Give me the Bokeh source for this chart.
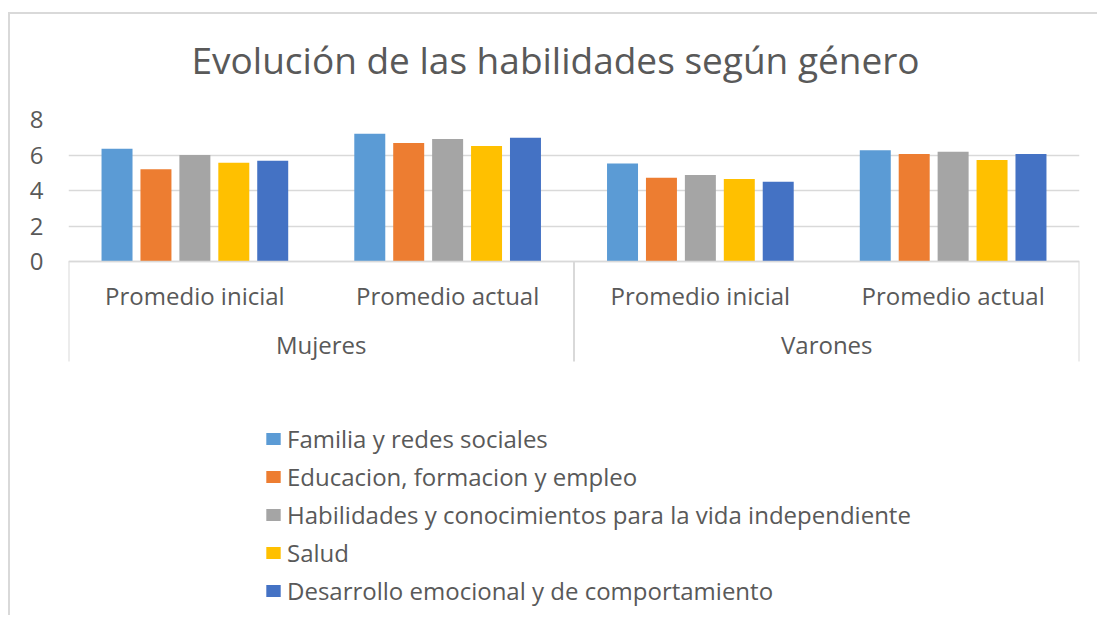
from bokeh.plotting import figure
from bokeh.models import (FactorRange, Range1d, FixedTicker, CategoricalAxis, Title,
                          Legend, LegendItem, ColumnDataSource)
from bokeh.transform import dodge
from bokeh.embed import file_html
from bokeh.resources import INLINE

# ---------------- data ----------------
generos = ["Mujeres", "Varones"]
momentos = ["Promedio inicial", "Promedio actual"]
series = ["Familia y redes sociales",
          "Educacion, formacion y empleo",
          "Habilidades y conocimientos para la vida independiente",
          "Salud",
          "Desarrollo emocional y de comportamiento"]
# order: Mujeres-inicial, Mujeres-actual, Varones-inicial, Varones-actual
familia = [6.35, 7.20, 5.52, 6.27]
educacion = [5.20, 6.67, 4.72, 6.05]
habilidades = [6.00, 6.90, 4.88, 6.18]
salud = [5.57, 6.51, 4.65, 5.72]
desarrollo = [5.67, 6.97, 4.50, 6.05]
y_ticks = [0, 2, 4, 6, 8]

colors = ["#5B9BD5", "#ED7D31", "#A5A5A5", "#FFC000", "#4472C4"]
TEXT = "#595959"
GRID = "#D9D9D9"
FONT = "Open Sans"

# ---------------- layout (canvas px) ----------------
W, H = 1089, 603
frame_top = 105
zero_px = 247          # canvas y of value 0
box_bottom_px = 347    # bottom of category box
unit = (zero_px - frame_top) / y_ticks[-1]
y_start = -(H - zero_px) / unit
box_bottom = -(box_bottom_px - zero_px) / unit
group_axis_loc = -37 / unit

factors = [(g, m) for g in generos for m in momentos]
src = ColumnDataSource(dict(x=factors, familia=familia, educacion=educacion,
                            habilidades=habilidades, salud=salud, desarrollo=desarrollo))

p = figure(width=W, height=H, output_backend="svg", toolbar_location=None,
           x_range=FactorRange(*factors, factor_padding=0, group_padding=0, range_padding=0),
           y_range=Range1d(y_start, y_ticks[-1]),
           min_border_left=58, min_border_right=20, min_border_top=frame_top,
           min_border_bottom=0)
p.outline_line_color = None
p.background_fill_color = "white"
p.border_fill_color = "white"
p.styles = {"margin-left": "8px", "margin-top": "12px",
            "border-left": "2px solid #D9D9D9", "border-top": "2px solid #D9D9D9"}

# title
p.title.text = "Evolución de las habilidades según género"
p.title.text_font = FONT
p.title.text_font_size = "37px"
p.title.text_font_style = "normal"
p.title.text_color = TEXT
p.title.align = "left"
p.title.offset = 123
p.title.standoff = 10

# blank spacer between the title and the plot area
p.add_layout(Title(text=" ", text_font_size="1px", standoff=27), "above")

# x axis (inner labels) at value 0
xa = p.below[0]
xa.fixed_location = 0
xa.axis_line_color = GRID
xa.axis_line_width = 1.5
xa.major_tick_line_color = None
xa.minor_tick_line_color = None
xa.major_label_text_font = FONT
xa.major_label_text_font_size = "24px"
xa.major_label_text_color = TEXT
xa.major_label_standoff = 11
xa.group_text_alpha = 0
xa.separator_line_color = None

# y axis / grid
ya = p.left[0]
ya.ticker = FixedTicker(ticks=y_ticks)
ya.axis_line_color = None
ya.major_tick_line_color = None
ya.minor_tick_line_color = None
ya.major_label_text_font = FONT
ya.major_label_text_font_size = "24px"
ya.major_label_text_color = TEXT
ya.major_label_standoff = 19
p.ygrid.ticker = FixedTicker(ticks=y_ticks)
p.ygrid.grid_line_color = GRID
p.ygrid.grid_line_width = 1.5
p.xgrid.visible = False

# bars
cols = ["familia", "educacion", "habilidades", "salud", "desarrollo"]
pitch = 0.154
bw = 0.1226
renderers = []
for i, (c, col) in enumerate(zip(cols, colors)):
    r = p.vbar(x=dodge("x", (i - 2) * pitch, range=p.x_range), top=c, width=bw,
               source=src, fill_color=col, line_color=None)
    renderers.append(r)

# second axis for group labels
xb = CategoricalAxis(fixed_location=group_axis_loc)
xb.axis_line_color = None
xb.major_tick_line_color = None
xb.minor_tick_line_color = None
xb.major_label_text_font = FONT
xb.major_label_text_font_size = "24px"
xb.major_label_text_alpha = 0
xb.major_label_standoff = 23
xb.group_text_font = FONT
xb.group_text_font_size = "24px"
xb.group_text_color = TEXT
xb.group_text_font_style = "normal"
xb.separator_line_color = None
p.add_layout(xb, "below")

# category box lines
edges = [(generos[0], momentos[0], -0.5), (generos[0], momentos[-1], 0.5),
         (generos[-1], momentos[-1], 0.5)]
p.segment(x0=edges, x1=edges, y0=[0] * 3, y1=[box_bottom] * 3,
          line_color=GRID, line_width=2)

# legend
legend = Legend(items=[LegendItem(label=s, renderers=[r]) for s, r in zip(series, renderers)],
                location=(196, 10), orientation="vertical")
legend.label_text_font = FONT
legend.label_text_font_size = "24px"
legend.label_text_color = TEXT
legend.glyph_width = 18
legend.glyph_height = 15
legend.label_standoff = 5
legend.spacing = 5
legend.padding = 0
legend.margin = 0
legend.border_line_color = None
legend.background_fill_alpha = 0
p.add_layout(legend)

open("out.html", "w").write(file_html(p, INLINE))
